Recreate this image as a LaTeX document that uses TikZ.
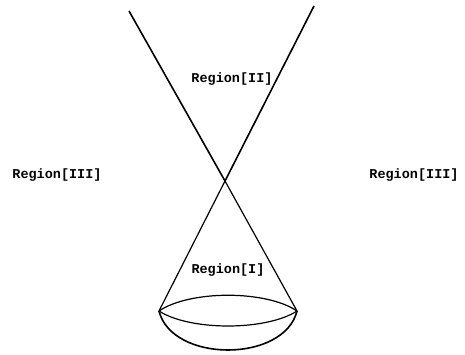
\documentclass[tikz,border=0pt]{standalone}
\usepackage{fontspec}
\setmonofont{Liberation Mono}
\begin{document}
\begin{tikzpicture}[x=1pt,y=-1pt,
  lbl/.style={font=\ttfamily\bfseries\fontsize{13.5}{14}\selectfont, inner sep=0pt},
  upper/.style={line width=1.6pt},
  lower/.style={line width=1.2pt}]
\useasboundingbox (0,0) rectangle (465,355);
\coordinate (tl) at (129,11);
\coordinate (tr) at (314,6);
\coordinate (c) at (225,181);
\coordinate (bl) at (159,311);
\coordinate (br) at (297,311);
\draw[upper] (tl) -- (c);
\draw[upper] (tr) -- (c);
\draw[lower] (c) -- (br);
\draw[lower] (c) -- (bl);
\draw[lower] (bl) .. controls (190,290) and (266,290) .. (br);
\draw[lower] (bl) .. controls (190,331) and (266,331) .. (br);
\draw[upper] (bl) .. controls (172,363) and (284,363) .. (br);
\node[lbl] (r3l) at (57,175) {Region[III]};
\node[lbl] (r3r) at (414,175) {Region[III]};
\node[lbl] (r2) at (232,79) {Region[II]};
\node[lbl] (r1) at (228,270) {Region[I]};
\end{tikzpicture}
\end{document}
